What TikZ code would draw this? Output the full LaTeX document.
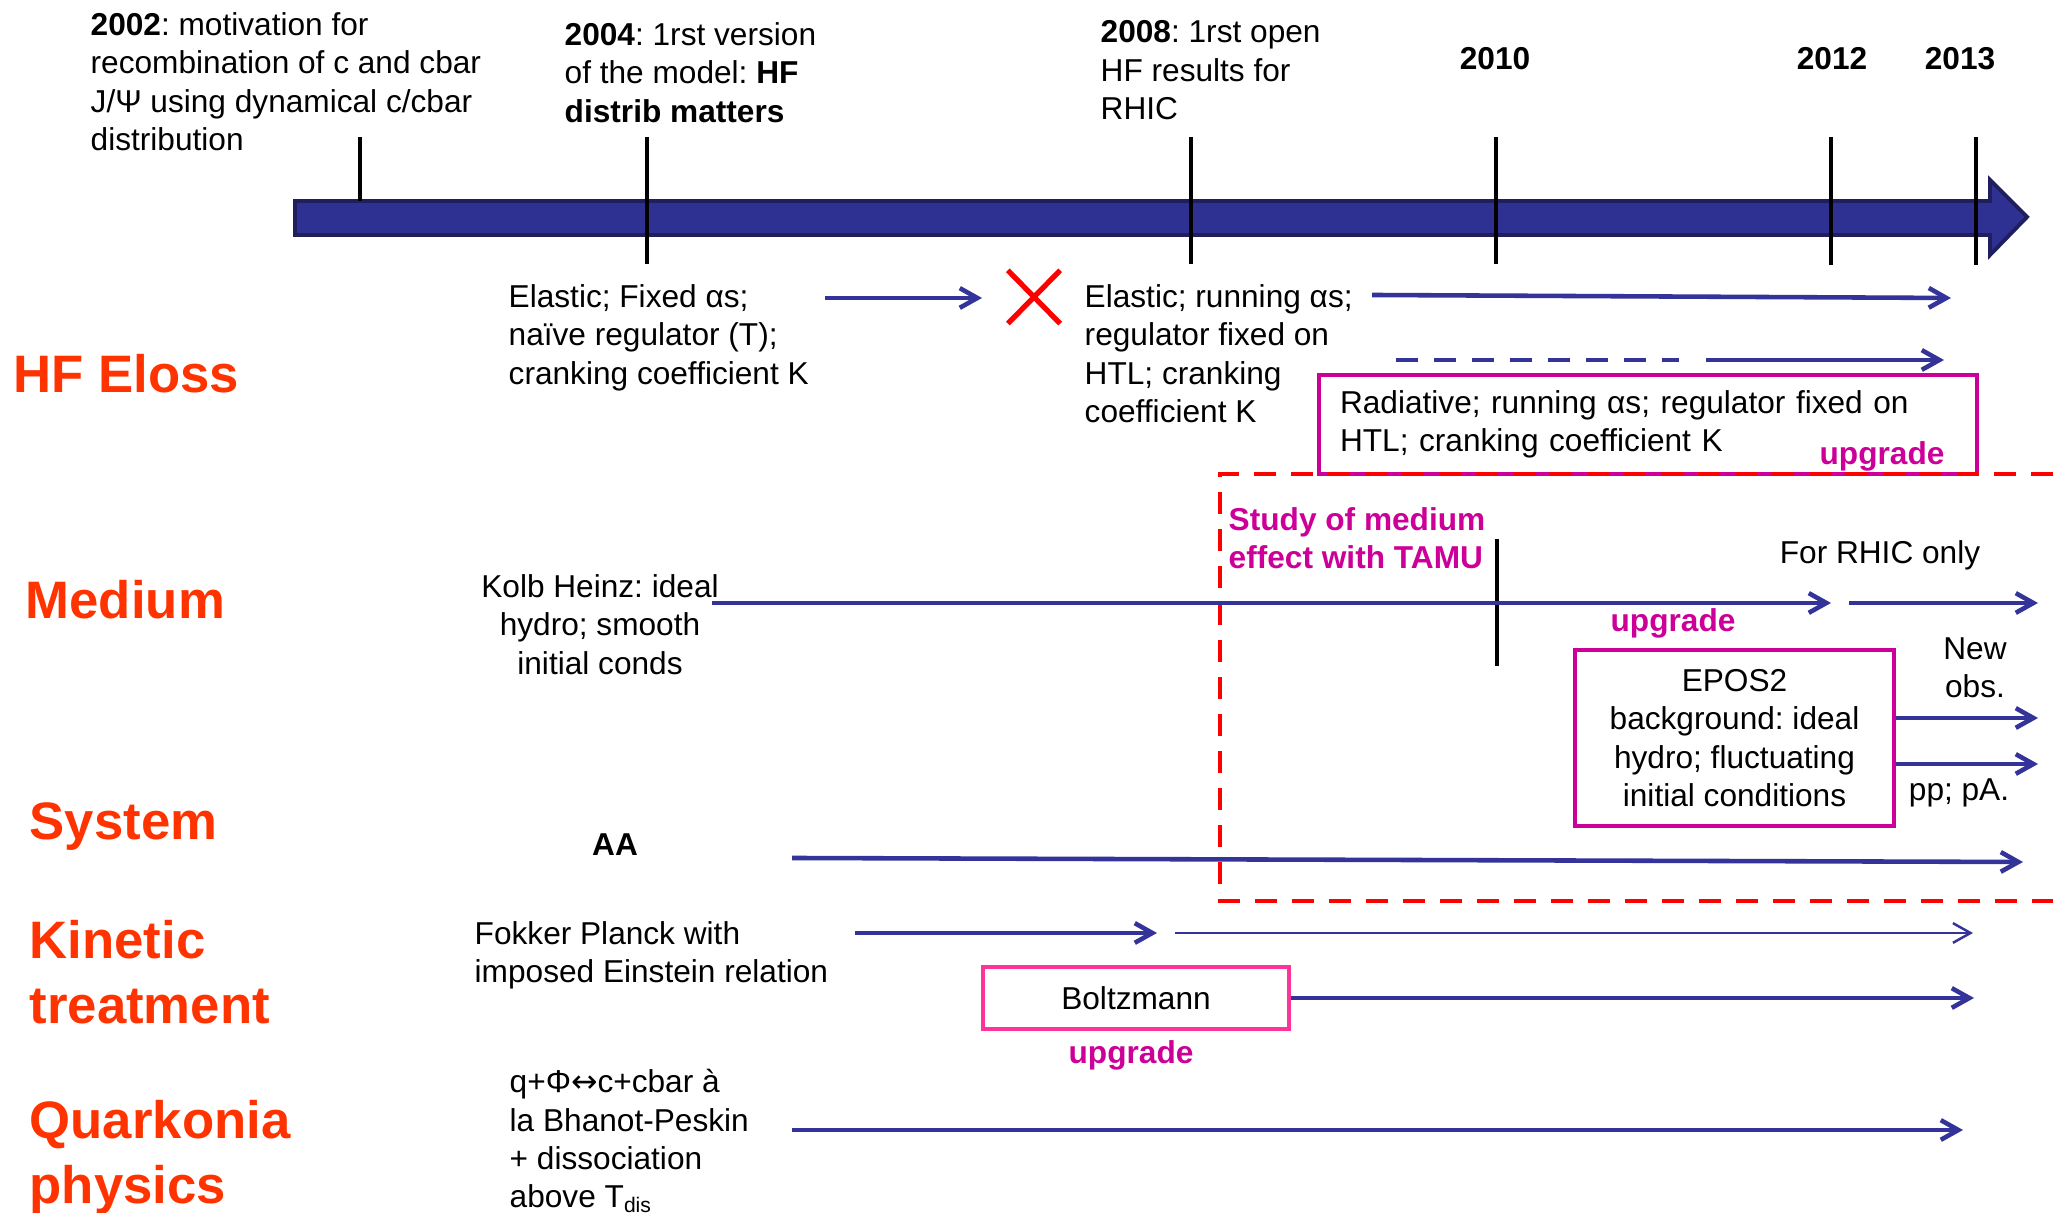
\documentclass[tikz,border=0pt]{standalone}
\usepackage{fontspec}
\setmainfont{Liberation Sans}
\newfontfamily\arrowfont{DejaVu Sans}
\frenchspacing
\usetikzlibrary{arrows.meta, shapes.misc}
\definecolor{navy}{HTML}{333399}
\definecolor{barfill}{HTML}{2E3192}
\definecolor{baredge}{HTML}{1F1F60}
\definecolor{rowred}{HTML}{FF3300}
\definecolor{upgcol}{HTML}{CC0099}
\definecolor{boxpink}{HTML}{FF3399}

\begin{document}
\begin{tikzpicture}[
    every node/.style={inner sep=0pt, font=\fontsize{9}{10.9}\selectfont},
    txt/.style={align=left, anchor=north west},
    ctxt/.style={align=center, anchor=north},
    yr/.style={font=\fontsize{9}{10.9}\selectfont\bfseries},
    cat/.style={
        anchor=north west, align=left, text=rowred,
        font=\fontsize{15}{18.4}\selectfont\bfseries,
    },
    upg/.style={text=upgcol, font=\fontsize{9}{10.9}\selectfont\bfseries},
    tick/.style={black, line width=1.2pt},
    arr/.style={-{Straight Barb[length=5pt, width=5.6pt]}, line width=1.3pt, color=navy},
    thinarr/.style={-{Straight Barb[length=5pt, width=5.6pt]}, line width=0.7pt, color=navy},
    mbox/.style={rectangle, draw=#1, line width=1.4pt},
    frame/.style={red, line width=1.2pt, dash pattern=on 0.22cm off 0.15cm},
]
\useasboundingbox (0,0) rectangle (20.53,12.13);

% ---------------------------------------------------------------- time line
\draw[baredge, fill=barfill, line width=1.1pt]
    (2.95,10.12) -- (19.90,10.12) -- (19.90,10.33) -- (20.27,9.96)
    -- (19.90,9.58) -- (19.90,9.78) -- (2.95,9.78) -- cycle;

\foreach \x/\lo in {3.60/10.12, 6.47/9.49, 11.91/9.49, 14.96/9.49, 18.31/9.48, 19.76/9.48}{
    \draw[tick] (\x, 10.76) -- (\x, \lo);
}

\node[txt] (y2002) at (0.90, 12.01)
    {\textbf{2002}: motivation for\\recombination of c and cbar\\J/Ψ using dynamical c/cbar\\distribution};
\node[txt] (y2004) at (5.64, 11.91)
    {\textbf{2004}: 1rst version\\of the model: \textbf{HF}\\\textbf{distrib matters}};
\node[txt] (y2008) at (11.00, 11.93)
    {\textbf{2008}: 1rst open\\HF results for\\RHIC};
\foreach \x/\yy in {14.95/2010, 18.32/2012, 19.60/2013}
    \node[yr] (y\yy) at (\x, 11.54) {\yy};

% ---------------------------------------------------------------- HF Eloss
\node[cat] (hf) at (0.13, 8.59) {HF Eloss};
\node[txt] (el1) at (5.08, 9.29)
    {Elastic; Fixed αs;\\naïve regulator (T);\\cranking coefficient K};
\coordinate (a1s) at (8.25, 9.15);
\coordinate (a1e) at (9.82, 9.15);
\draw[arr] (a1s) -- (a1e);
\node[cross out, draw=red, line width=1.5pt, minimum width=0.47cm, minimum height=0.48cm]
    (xmark) at (10.34, 9.16) {};

\node[txt] (el2) at (10.84, 9.29)
    {Elastic; running αs;\\regulator fixed on\\HTL; cranking\\coefficient K};
\coordinate (a2s) at (13.72, 9.18);
\coordinate (a2e) at (19.51, 9.15);
\draw[arr] (a2s) -- (a2e);

\coordinate (d1s) at (13.96, 8.53);
\coordinate (d1e) at (16.79, 8.53);
\coordinate (a3s) at (17.06, 8.53);
\coordinate (a3e) at (19.44, 8.53);
\draw[navy, line width=1.4pt, dash pattern=on 0.22cm off 0.16cm] (d1s) -- (d1e);
\draw[arr] (a3s) -- (a3e);

\node[mbox=upgcol, minimum width=6.58cm, minimum height=0.99cm, text width=6.16cm, align=left]
    (rad) at (16.48, 7.885) {Radiative; running αs; regulator fixed on\\HTL; cranking coefficient K};
\node[upg] (upg1) at (18.82, 7.57) {upgrade};

% ---------------------------------------------------------------- TAMU frame
\draw[frame] (20.53, 7.39) -- (12.20, 7.39) -- (12.20, 3.12) -- (20.53, 3.12);
\node[txt, upg] (tamu) at (12.28, 7.06) {Study of medium\\effect with TAMU};
\draw[tick] (14.97, 6.74) -- (14.97, 5.47);

% ---------------------------------------------------------------- Medium
\node[cat] (med) at (0.25, 6.33) {Medium};
\node[ctxt] (kolb) at (6.00, 6.39) {Kolb Heinz: ideal\\hydro; smooth\\initial conds};
\coordinate (m1s) at (7.12, 6.10);
\coordinate (m1e) at (18.31, 6.10);
\coordinate (m2s) at (18.49, 6.10);
\coordinate (m2e) at (20.38, 6.10);
\draw[arr] (m1s) -- (m1e);
\draw[arr] (m2s) -- (m2e);
\node (rhic) at (18.80, 6.58) {For RHIC only};
\node[upg] (upg2) at (16.73, 5.90) {upgrade};

\node[mbox=upgcol, minimum width=3.19cm, minimum height=1.76cm, align=center]
    (epos) at (17.345, 4.75) {EPOS2\\background: ideal\\hydro; fluctuating\\initial conditions};
\node[ctxt] (newobs) at (19.75, 5.76) {New\\obs.};
\node (pp) at (19.59, 4.20) {pp; pA.};
\coordinate (e1e) at (20.38, 4.95);
\coordinate (e2e) at (20.38, 4.49);
\draw[arr] (epos.east |- e1e) -- (e1e);
\draw[arr] (epos.east |- e2e) -- (e2e);

% ---------------------------------------------------------------- System
\node[cat] (sys) at (0.29, 4.11) {System};
\node[yr] (aa) at (6.15, 3.68) {AA};
\coordinate (s1s) at (7.92, 3.55);
\coordinate (s1e) at (20.23, 3.51);
\draw[arr] (s1s) -- (s1e);

% ---------------------------------------------------------------- Kinetic
\node[cat] (kin) at (0.29, 2.93) {Kinetic\\treatment};
\node[txt] (fp) at (4.74, 2.92) {Fokker Planck with\\imposed Einstein relation};
\coordinate (k1s) at (8.55, 2.80);
\coordinate (k1e) at (11.57, 2.80);
\coordinate (k2s) at (11.75, 2.80);
\coordinate (k2e) at (19.73, 2.80);
\draw[arr] (k1s) -- (k1e);
\draw[thinarr] (k2s) -- (k2e);
\node[mbox=boxpink, minimum width=3.06cm, minimum height=0.62cm] (boltz) at (11.36, 2.15) {Boltzmann};
\coordinate (k3e) at (19.74, 2.15);
\draw[arr] (boltz.east) -- (k3e);
\node[upg] (upg3) at (11.31, 1.58) {upgrade};

% ---------------------------------------------------------------- Quarkonia
\node[cat] (qk) at (0.29, 1.13) {Quarkonia\\physics};
\node[txt] (qtext) at (5.09, 1.44)
    {q+Φ{\arrowfont ↔}c+cbar à\\la Bhanot-Peskin\\+ dissociation\\above T\textsubscript{dis}};
\coordinate (q1s) at (7.92, 0.83);
\coordinate (q1e) at (19.63, 0.83);
\draw[arr] (q1s) -- (q1e);

\end{tikzpicture}
\end{document}
